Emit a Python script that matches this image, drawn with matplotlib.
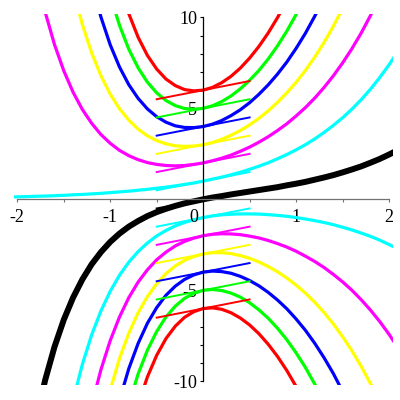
import matplotlib
matplotlib.use('Agg')
import matplotlib.pyplot as plt

plt.rcParams['font.family'] = ['Liberation Serif', 'DejaVu Serif']

# x positions shared by all solution curves
x_grid = [-2.1, -2.0, -1.9, -1.8, -1.7, -1.6, -1.5, -1.4, -1.3, -1.2, -1.1,
          -1.0, -0.9, -0.8, -0.7, -0.6, -0.5, -0.4, -0.3, -0.2, -0.1, 0.0,
          0.1, 0.2, 0.3, 0.4, 0.5, 0.6, 0.7, 0.8, 0.9, 1.0, 1.1, 1.2, 1.3,
          1.4, 1.5, 1.6, 1.7, 1.8, 1.9, 2.0, 2.1]

# starting value y(0) of each curve, slope at x=0 is 1 for all of them
init_values = [6, 5, 4, 3, 2, 1, 0, -1, -2, -3, -4, -5, -6]
curve_colors = ['#ff0000', '#00ff00', '#0000ff', '#ffff00', '#ff00ff', '#00ffff', '#000000',
                '#00ffff', '#ff00ff', '#ffff00', '#0000ff', '#00ff00', '#ff0000']
curve_start = [-0.9, -1.0, -1.2, -1.4, -1.8, -2.1, -1.8, -1.4, -1.2, -1.1, -0.9, -0.8, -0.7]

y_c6 = [11.85, 10.20, 8.91, 7.91, 7.16, 6.61, 6.25, 6.03, 5.96, 6.00, 6.15, 6.41, 6.76,
        7.21, 7.76, 8.40, 9.14, 9.98, 10.93]
y_c5 = [11.20, 9.56, 8.25, 7.23, 6.44, 5.85, 5.43, 5.15, 4.99, 4.95, 5.00, 5.14, 5.37,
        5.68, 6.07, 6.54, 7.08, 7.71, 8.43, 9.24, 10.15, 11.16]
y_c4 = [11.93, 10.02, 8.49, 7.27, 6.30, 5.55, 4.97, 4.54, 4.24, 4.04, 3.95, 3.94, 4.00,
        4.13, 4.33, 4.60, 4.92, 5.31, 5.77, 6.29, 6.88, 7.54, 8.29, 9.12, 10.05, 11.08]
y_c3 = [11.54, 9.61, 8.05, 6.79, 5.78, 4.98, 4.35, 3.86, 3.49, 3.23, 3.05, 2.94, 2.91,
        2.93, 3.00, 3.12, 3.30, 3.52, 3.78, 4.09, 4.45, 4.86, 5.33, 5.85, 6.43, 7.08,
        7.81, 8.61, 9.50, 10.49]
y_c2 = [12.47, 10.29, 8.51, 7.07, 5.89, 4.94, 4.18, 3.56, 3.08, 2.69, 2.40, 2.18, 2.02,
        1.92, 1.86, 1.84, 1.86, 1.92, 2.00, 2.12, 2.26, 2.43, 2.64, 2.87, 3.14, 3.44,
        3.78, 4.15, 4.58, 5.04, 5.56, 6.14, 6.78, 7.49, 8.27, 9.13, 10.09, 11.15]
y_c1 = [0.12, 0.14, 0.15, 0.17, 0.18, 0.20, 0.22, 0.25, 0.27, 0.30, 0.33, 0.37, 0.41,
        0.45, 0.50, 0.55, 0.61, 0.67, 0.74, 0.82, 0.90, 1.00, 1.11, 1.22, 1.35, 1.49,
        1.65, 1.82, 2.01, 2.23, 2.46, 2.72, 3.00, 3.32, 3.67, 4.06, 4.48, 4.95, 5.47,
        6.05, 6.69, 7.39, 8.17]
y_c0 = [-12.14, -9.93, -8.11, -6.62, -5.40, -4.40, -3.57, -2.90, -2.34, -1.88, -1.50,
        -1.19, -0.92, -0.70, -0.52, -0.36, -0.22, -0.11, 0.00, 0.10, 0.18, 0.27, 0.35,
        0.43, 0.51, 0.59, 0.67, 0.77, 0.86, 0.96, 1.08, 1.20, 1.33, 1.48, 1.64, 1.81,
        2.01, 2.22, 2.46, 2.72]
y_cm1 = [-11.05, -9.07, -7.45, -6.13, -5.05, -4.17, -3.45, -2.87, -2.40, -2.01, -1.71,
         -1.46, -1.27, -1.12, -1.00, -0.91, -0.85, -0.82, -0.80, -0.80, -0.81, -0.84,
         -0.88, -0.93, -1.00, -1.08, -1.17, -1.27, -1.39, -1.53, -1.68, -1.85, -2.03,
         -2.24, -2.48, -2.73]
y_cm2 = [-11.32, -9.36, -7.76, -6.46, -5.40, -4.55, -3.87, -3.32, -2.90, -2.56, -2.31,
         -2.13, -2.00, -1.92, -1.89, -1.90, -1.94, -2.02, -2.12, -2.26, -2.43, -2.62,
         -2.85, -3.12, -3.41, -3.74, -4.12, -4.53, -4.99, -5.51, -6.08, -6.71, -7.41,
         -8.18]
y_cm3 = [-12.59, -10.47, -8.74, -7.35, -6.23, -5.34, -4.64, -4.08, -3.66, -3.35, -3.14,
         -3.00, -2.93, -2.93, -2.98, -3.09, -3.24, -3.44, -3.69, -3.98, -4.32, -4.71,
         -5.15, -5.65, -6.21, -6.84, -7.54, -8.31, -9.17, -10.12, -11.17]
y_cm4 = [-11.03, -9.30, -7.92, -6.81, -5.95, -5.27, -4.77, -4.40, -4.15, -4.00, -3.94,
         -3.97, -4.06, -4.23, -4.46, -4.75, -5.11, -5.53, -6.01, -6.57, -7.19, -7.90,
         -8.69, -9.56, -10.54]
y_cm5 = [-11.25, -9.60, -8.29, -7.26, -6.46, -5.87, -5.44, -5.16, -5.00, -4.95, -5.01,
         -5.15, -5.37, -5.68, -6.07, -6.53, -7.08, -7.71, -8.43, -9.23, -10.14, -11.16]
y_cm6 = [-11.28, -9.76, -8.57, -7.65, -6.97, -6.48, -6.17, -6.00, -5.96, -6.04, -6.23,
         -6.52, -6.90, -7.38, -7.96, -8.63, -9.40, -10.28, -11.27]

curve_y = [y_c6, y_c5, y_c4, y_c3, y_c2, y_c1, y_c0,
           y_cm1, y_cm2, y_cm3, y_cm4, y_cm5, y_cm6]

# short tangent segments through (0, y0)
tangent_x = [-0.5, 0.5]
tangent_left = [5.5, 4.5, 3.5, 2.5, 1.5, 0.5, -0.5, -1.5, -2.5, -3.5, -4.5, -5.5, -6.5]
tangent_right = [6.5, 5.5, 4.5, 3.5, 2.5, 1.5, 0.5, -0.5, -1.5, -2.5, -3.5, -4.5, -5.5]

x_ticks = [-2, -1.5, -1, -0.5, 0, 0.5, 1, 1.5, 2]
x_labels = ['-2', '', '-1', '', '', '', '1', '', '2']
y_ticks = list(range(-10, 11))
y_labels = {10: '10', 5: '5', -5: '-5', -10: '-10'}


fig = plt.figure(figsize=(4, 4), dpi=100)
ax = fig.add_axes([0.03625, 0.0375, 0.9455, 0.92825])

for c, col, start, ys in zip(init_values, curve_colors, curve_start, curve_y):
    i0 = x_grid.index(start)
    xs = x_grid[i0:i0 + len(ys)]
    lw = 4.3 if c == 0 else 2.3
    ax.plot(xs, ys, color=col, lw=lw, solid_capstyle='butt')

for col, yl, yr in zip(curve_colors, tangent_left, tangent_right):
    ax.plot(tangent_x, [yl, yr], color=col, lw=1.4)

ax.set_xlim(-2.03, 2.04)
ax.set_ylim(-10.2, 10.2)

ax.spines['top'].set_visible(False)
ax.spines['right'].set_visible(False)
ax.spines['left'].set_position(('data', 0))
ax.spines['bottom'].set_position(('data', 0))
ax.spines['bottom'].set_bounds(-2, 2)
ax.spines['left'].set_bounds(-10, 10)
ax.spines['bottom'].set_color('0.45')
ax.spines['left'].set_color('black')
ax.spines['bottom'].set_linewidth(0.9)
ax.spines['left'].set_linewidth(0.9)

ax.set_xticks(x_ticks)
ax.set_xticklabels(x_labels)
ax.set_yticks(y_ticks)
ax.set_yticklabels([y_labels.get(t, '') for t in y_ticks])
ax.tick_params(axis='x', direction='out', length=2.2, width=0.8, color='0.45',
               pad=5, labelsize=13)
ax.tick_params(axis='y', direction='out', length=2.2, width=0.8, color='black',
               pad=2.2, labelsize=13)

# the 0 label of the x axis sits left of the vertical axis
ax.annotate('0', xy=(0, 0), xytext=(-7, -7.2), textcoords='offset points',
            ha='center', va='top', fontsize=13)

fig.savefig('out.png', dpi=100)
